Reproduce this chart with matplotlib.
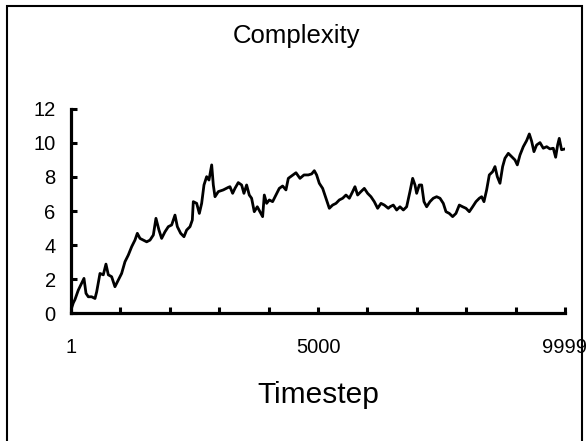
import matplotlib
matplotlib.use('Agg')
import matplotlib.pyplot as plt
from matplotlib.patches import Rectangle

plt.rcParams['font.family'] = ['Liberation Sans', 'DejaVu Sans']

# values
timestep = [1, 47, 81, 148, 216, 263, 304, 351, 418, 486, 520, 587, 654, 708, 756,
            823, 890, 958, 1025, 1093, 1160, 1228, 1295, 1343, 1397, 1464, 1532, 1599,
            1667, 1720, 1781, 1835, 1903, 1970, 2038, 2105, 2153, 2220, 2287, 2341,
            2409, 2456, 2476, 2544, 2598, 2645, 2692, 2746, 2793, 2848, 2881, 2915,
            2982, 3083, 3184, 3218, 3272, 3319, 3386, 3454, 3501, 3555, 3609, 3656,
            3710, 3771, 3825, 3879, 3913, 3960, 4014, 4081, 4149, 4216, 4284, 4351,
            4399, 4466, 4554, 4635, 4716, 4803, 4871, 4925, 4972, 5026, 5094, 5161,
            5229, 5296, 5364, 5431, 5499, 5566, 5634, 5701, 5748, 5802, 5869, 5937,
            6004, 6072, 6139, 6207, 6275, 6342, 6423, 6457, 6524, 6592, 6659, 6727,
            6794, 6861, 6916, 6963, 6997, 7050, 7098, 7145, 7199, 7266, 7333, 7401,
            7469, 7536, 7590, 7657, 7725, 7792, 7860, 7927, 7995, 8062, 8130, 8197,
            8265, 8312, 8359, 8413, 8467, 8534, 8582, 8629, 8683, 8737, 8784, 8852,
            8919, 8987, 9034, 9088, 9155, 9223, 9277, 9324, 9371, 9425, 9493, 9560,
            9628, 9694, 9762, 9810, 9850, 9883, 9930, 9999]
complexity = [0.2, 0.6, 0.8, 1.35, 1.75, 2.04, 1.16, 0.96, 0.96, 0.86, 1.25, 2.33, 2.25,
              2.88, 2.25, 2.14, 1.55, 1.94, 2.33, 3.02, 3.41, 3.9, 4.29, 4.69, 4.39,
              4.29, 4.19, 4.29, 4.59, 5.57, 4.88, 4.39, 4.78, 5.08, 5.18, 5.76, 5.08,
              4.69, 4.49, 4.88, 5.08, 5.47, 6.55, 6.45, 5.86, 6.45, 7.53, 8.02, 7.82,
              8.71, 7.53, 6.84, 7.14, 7.24, 7.39, 7.43, 7.04, 7.33, 7.67, 7.53, 7.04,
              7.53, 6.94, 6.75, 5.96, 6.25, 5.96, 5.67, 6.94, 6.45, 6.65, 6.55, 6.94,
              7.33, 7.47, 7.24, 7.92, 8.06, 8.25, 7.92, 8.12, 8.12, 8.18, 8.37, 8.12,
              7.63, 7.33, 6.75, 6.16, 6.35, 6.45, 6.65, 6.75, 6.94, 6.75, 7.14, 7.43,
              6.94, 7.14, 7.33, 7.04, 6.84, 6.55, 6.16, 6.45, 6.35, 6.16, 6.25, 6.35,
              6.06, 6.25, 6.06, 6.25, 7.14, 7.92, 7.53, 7.04, 7.53, 7.53, 6.55, 6.25,
              6.55, 6.75, 6.84, 6.75, 6.45, 5.96, 5.86, 5.67, 5.86, 6.35, 6.25, 6.16,
              5.96, 6.25, 6.55, 6.75, 6.84, 6.55, 7.24, 8.12, 8.31, 8.61, 8.02, 7.63,
              8.61, 9.1, 9.39, 9.2, 9.0, 8.71, 9.29, 9.78, 10.14, 10.53, 10.1, 9.49,
              9.88, 10.02, 9.69, 9.78, 9.65, 9.69, 9.16, 9.88, 10.27, 9.6, 9.65]

yticks = [0, 2, 4, 6, 8, 10, 12]
xtick_marks = [1, 1001, 2001, 3000, 4000, 5000, 6000, 7000, 7999, 8999, 9999]
xtick_labels = ['1', '', '', '', '', '5000', '', '', '', '', '9999']

fig = plt.figure(figsize=(5.87, 4.41), dpi=100)
ax = fig.add_axes([0.121, 0.290, 0.8415, 0.463])

ax.plot(timestep, complexity, color='black', linewidth=2.0)

ax.set_xlim(1, 9999)
ax.set_ylim(0, 12)
ax.set_yticks(yticks)
ax.set_xticks(xtick_marks)
ax.set_xticklabels(xtick_labels)

for side in ['top', 'right']:
    ax.spines[side].set_visible(False)
for side in ['left', 'bottom']:
    ax.spines[side].set_linewidth(2.3)

ax.tick_params(axis='y', direction='in', length=4, width=2.2, labelsize=14.5, pad=11)
ax.tick_params(axis='x', direction='in', length=4, width=2.2, labelsize=14.5, pad=18)

fig.text(297 / 587, 1 - 43.3 / 441, 'Complexity', ha='center', va='baseline', fontsize=18.5)
fig.text(318.5 / 587, 1 - 403 / 441, 'Timestep', ha='center', va='baseline', fontsize=21.5)

# chart border
fig.patches.append(Rectangle((7 / 587, -0.02), 575 / 587, 1 - 6 / 441 + 0.02,
                             transform=fig.transFigure, fill=False,
                             edgecolor='black', linewidth=1.5))

fig.savefig('out.png', dpi=100)
